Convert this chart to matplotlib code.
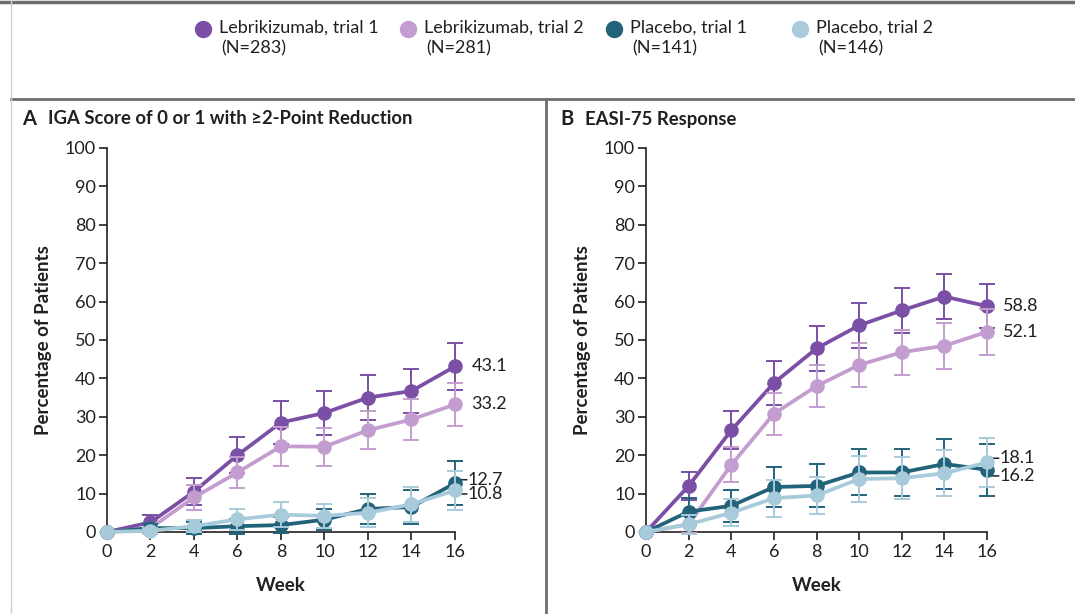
import matplotlib
matplotlib.use("Agg")
import matplotlib.pyplot as plt
from matplotlib.lines import Line2D

plt.rcParams['font.family'] = ['Lato', 'DejaVu Sans']

weeks = [0, 2, 4, 6, 8, 10, 12, 14, 16]

series_names = ["Lebrikizumab, trial 1", "Lebrikizumab, trial 2",
                "Placebo, trial 1", "Placebo, trial 2"]
series_n = ["(N=283)", "(N=281)", "(N=141)", "(N=146)"]
colors = ["#7a4fa5", "#c39dcf", "#22637a", "#a8cbdb"]

# panel A - IGA 0/1 with >=2-point reduction
iga_lebri1 = [0, 2.5, 10.5, 20.0, 28.5, 31.0, 35.0, 36.7, 43.1]
iga_lebri2 = [0, 1.0, 9.0, 15.5, 22.3, 22.2, 26.5, 29.3, 33.2]
iga_plac1 = [0, 1.0, 1.0, 1.5, 1.8, 3.2, 6.0, 6.5, 12.7]
iga_plac2 = [0, 0.3, 1.5, 3.3, 4.5, 4.2, 5.0, 7.2, 10.8]
iga_err_lebri1 = [0, 1.8, 3.5, 4.7, 5.5, 5.7, 5.8, 5.8, 6.0]
iga_err_lebri2 = [0, 1.2, 3.3, 4.0, 5.0, 5.0, 5.0, 5.4, 5.7]
iga_err_plac1 = [0, 1.2, 1.5, 2.0, 2.0, 2.8, 4.0, 4.3, 5.7]
iga_err_plac2 = [0, 0.8, 1.5, 2.8, 3.3, 3.2, 3.8, 4.5, 5.0]

# panel B - EASI-75
easi_lebri1 = [0, 12.0, 26.5, 38.8, 47.8, 53.8, 57.7, 61.3, 58.8]
easi_lebri2 = [0, 2.0, 17.5, 30.8, 38.0, 43.5, 46.8, 48.5, 52.1]
easi_plac1 = [0, 5.3, 6.8, 11.7, 12.0, 15.5, 15.5, 17.7, 16.2]
easi_plac2 = [0, 2.0, 5.0, 8.8, 9.5, 13.8, 14.0, 15.3, 18.1]
easi_err_lebri1 = [0, 3.7, 5.0, 5.7, 5.8, 5.8, 5.8, 5.8, 5.8]
easi_err_lebri2 = [0, 2.2, 4.5, 5.5, 5.5, 5.8, 5.8, 6.0, 6.0]
easi_err_plac1 = [0, 3.6, 4.2, 5.3, 5.6, 6.0, 6.2, 6.6, 6.8]
easi_err_plac2 = [0, 2.5, 3.5, 4.8, 4.8, 6.0, 5.5, 6.0, 6.3]

TXT = "#231f20"

fig = plt.figure(figsize=(10.75, 6.14), dpi=100)


def draw_panel(ax, vals, errs, labels):
    # vals/errs in order lebri1, lebri2, plac1, plac2; draw light ones first
    for i in [1, 3, 0, 2]:
        ax.errorbar(weeks, vals[i], yerr=errs[i], color=colors[i], lw=2.7,
                    marker='o', ms=9.5, elinewidth=1.4, capsize=5.5, capthick=1.4,
                    clip_on=False, zorder=3 + i)
    ax.set_xlim(0, 16)
    ax.set_ylim(0, 100)
    ax.set_xticks(weeks)
    ax.set_yticks(range(0, 101, 10))
    ax.spines['top'].set_visible(False)
    ax.spines['right'].set_visible(False)
    for s in ['left', 'bottom']:
        ax.spines[s].set_linewidth(1.2)
        ax.spines[s].set_color(TXT)
    ax.tick_params(colors=TXT, labelsize=13, width=1.2, length=6, pad=2)
    ax.tick_params(axis='x', pad=3)
    ax.set_xlabel("Week", fontsize=13.5, fontweight='bold', color=TXT, labelpad=12)
    ax.set_ylabel("Percentage of Patients", fontsize=13.5, fontweight='bold',
                  color=TXT, labelpad=9)
    # end-of-line value labels: (value text, label y, leader?)
    for txt, ly, leader in labels:
        if leader:
            ax.annotate("", xy=(16, ly), xytext=(16.55, ly),
                        arrowprops=dict(arrowstyle='-', color=TXT, lw=1.1,
                                        shrinkA=0, shrinkB=0),
                        annotation_clip=False)
            ax.text(16.6, ly, txt, fontsize=13, color=TXT, va='center', ha='left')
        else:
            ax.text(16.75, ly, txt, fontsize=13, color=TXT, va='center', ha='left')


axA = fig.add_axes([0.0995, 0.1336, 0.3237, 0.6254])
draw_panel(axA, [iga_lebri1, iga_lebri2, iga_plac1, iga_plac2],
           [iga_err_lebri1, iga_err_lebri2, iga_err_plac1, iga_err_plac2],
           [("43.1", iga_lebri1[-1], False), ("33.2", iga_lebri2[-1], False),
            ("12.7", 13.6, True), ("10.8", 9.9, True)])

axB = fig.add_axes([0.601, 0.1336, 0.3172, 0.6254])
draw_panel(axB, [easi_lebri1, easi_lebri2, easi_plac1, easi_plac2],
           [easi_err_lebri1, easi_err_lebri2, easi_err_plac1, easi_err_plac2],
           [("58.8", easi_lebri1[-1], False), ("52.1", easi_lebri2[-1], False),
            ("18.1", 19.2, True), ("16.2", 14.6, True)])

# panel titles
fig.text(22 / 1075, 1 - 119 / 614, "A", fontsize=14.5, fontweight='bold', color=TXT, va='center')
fig.text(48 / 1075, 1 - 119 / 614, "IGA Score of 0 or 1 with \u22652-Point Reduction",
         fontsize=13.3, fontweight='bold', color=TXT, va='center')
fig.text(560 / 1075, 1 - 119 / 614, "B", fontsize=14.5, fontweight='bold', color=TXT, va='center')
fig.text(585 / 1075, 1 - 119 / 614, "EASI-75 Response",
         fontsize=13.3, fontweight='bold', color=TXT, va='center')

# legend across the top
leg_x = [203, 408, 614, 800]
for i in range(4):
    fig.add_artist(Line2D([leg_x[i] / 1075], [1 - 29 / 614], marker='o', ms=11.5,
                          color=colors[i], lw=0))
    fig.text((leg_x[i] + 16) / 1075, 1 - 28 / 614, series_names[i], fontsize=13,
             color=TXT, va='center')
    fig.text((leg_x[i] + 18) / 1075, 1 - 48 / 614, series_n[i], fontsize=13,
             color=TXT, va='center')

# frame lines
gray = "#6d6e70"
fig.add_artist(Line2D([0.0, 1.0], [1 - 2 / 614, 1 - 2 / 614], color=gray, lw=2.5))
fig.add_artist(Line2D([11 / 1075, 1.0], [1 - 99 / 614, 1 - 99 / 614], color=gray, lw=2.0))
fig.add_artist(Line2D([546 / 1075, 546 / 1075], [0, 1 - 99 / 614], color=gray, lw=2.0))
fig.add_artist(Line2D([11 / 1075, 11 / 1075], [0, 1], color="#cfcfcf", lw=1.0))

fig.savefig("out.png", dpi=100)
